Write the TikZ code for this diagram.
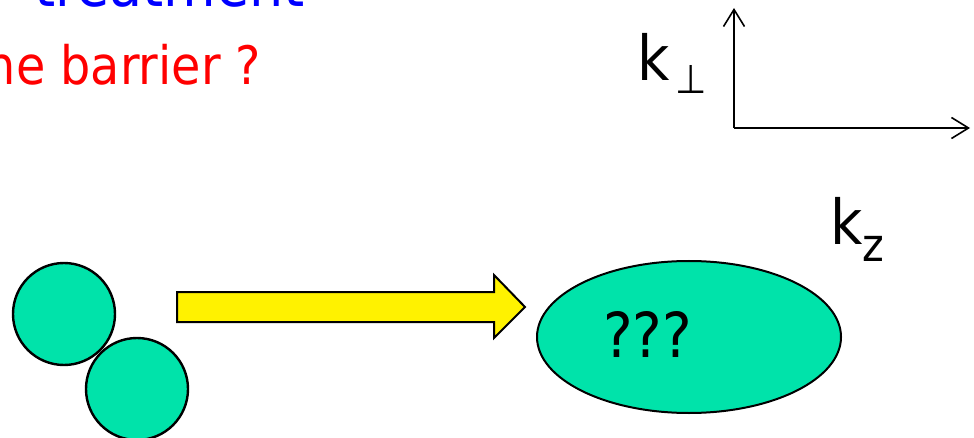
\documentclass[tikz,border=0pt]{standalone}
\usepackage{fontspec}
\setmainfont{DejaVu Sans Condensed}
\usetikzlibrary{arrows.meta,shapes.geometric,positioning}
\definecolor{blobgreen}{RGB}{0,227,170}
\tikzset{
  ball/.style={
    circle, draw=black, line width=2.4pt,
    fill=blobgreen, minimum size=102pt, inner sep=0pt
  },
  blob/.style={
    ellipse, draw=black, line width=2pt,
    fill=blobgreen, minimum width=304pt, minimum height=152pt, inner sep=0pt
  },
  flow/.style={
    draw=black, line width=2pt, fill=yellow, line join=miter
  },
  axis/.style={
    line width=1.6pt, -{Straight Barb[length=17pt,width=21pt]}
  },
  txt/.style={inner sep=0pt, outer sep=0pt}
}

\begin{document}
\begin{tikzpicture}[x=1pt, y=-1pt]
  \useasboundingbox (0,0) rectangle (974,438);
  \clip (0,0) rectangle (974,438);
  %
  % ==================================================================
  % Heading lines (cut at the top and left edges)
  % ==================================================================
  \node[txt, anchor=base east, text=blue] (heading) at (305,7)
    {\fontsize{60}{60}\selectfont treatment};
  \node[txt, anchor=base east, text=red] (question) at (261,85)
    {\fontsize{53}{53}\selectfont ne barrier ?};
  %
  % ==================================================================
  % Momentum axes
  % ==================================================================
  \coordinate (origin) at (734,128);
  \coordinate (kperpend) at (734,8);
  \coordinate (kzend) at (970,128);
  \draw[axis] (origin) -- (kperpend);
  \draw[axis] (origin) -- (kzend);
  \node[txt, anchor=base west] (kperp) at (637,81)
    {\fontsize{62}{62}\selectfont k\hspace{6pt}\raisebox{-13pt}{\fontsize{40}{40}\selectfont ⊥}};
  \node[txt, anchor=base west] (kz) at (830,245)
    {\fontsize{62}{62}\selectfont k\raisebox{-17pt}{\fontsize{46}{46}\selectfont z}};
  %
  % ==================================================================
  % Two colliding spheres -> yellow block arrow -> unknown final state
  % ==================================================================
  \node[ball] (ballA) at (64,314) {};
  \node[ball] (ballB) at (137,389) {};
  \draw[flow] (177,292) -- (494,292) -- (494,275) -- (525,307)
    -- (494,338) -- (494,322) -- (177,322) -- cycle;
  \node[blob] (final) at (689,337) {};
  \node[txt, anchor=base west] (unknown) at (603,357)
    {\fontsize{62}{62}\selectfont ???};
\end{tikzpicture}
\end{document}
